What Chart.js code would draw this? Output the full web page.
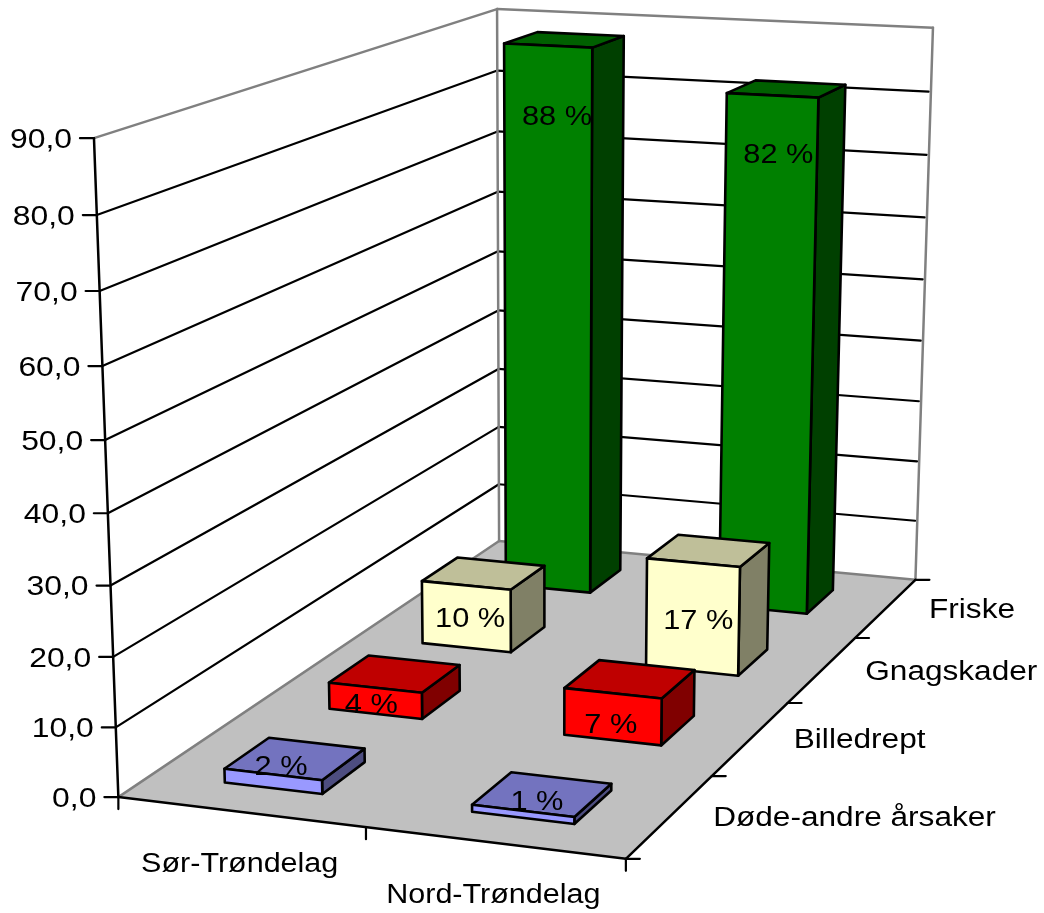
<!DOCTYPE html>
<html>
<head>
<meta charset="utf-8">
<style>
  html, body { margin: 0; padding: 0; background: #fff; }
  canvas { display: block; }
</style>
<script src="https://cdn.jsdelivr.net/npm/chart.js@4"></script>
</head>
<body>
<canvas id="chart" width="1044" height="913"></canvas>
<script>
// Tilstand per fylke, prosent av trær
var fylker = ['Sør-Trøndelag', 'Nord-Trøndelag'];
var tilstander = ['Døde-andre årsaker', 'Billedrept', 'Gnagskader', 'Friske'];
var dodeAndre = [2, 1];
var billedrept = [4, 7];
var gnagskader = [10, 17];
var friske = [88, 82];
var verdiEtiketter = ['0,0', '10,0', '20,0', '30,0', '40,0', '50,0', '60,0', '70,0', '80,0', '90,0'];

// Farger: front, topp, side
var farger = [
    ['#9999FF', '#7373BF', '#4D4D80'],
    ['#FF0000', '#BF0000', '#800000'],
    ['#FFFFCC', '#BFBF99', '#808066'],
    ['#008000', '#006000', '#004000']
];

// Etikettene er flyttet for hand i forhold til toppen av frontflaten
var etikettFlytt = [
    [[8, -9], [14, -11]],
    [[-4, 15], [-2, 30]],
    [[4, 32], [5, 56]],
    [[9, 69], [6, 58]]
];

var halvBredde = 0.2;
var halvDybde = 0.205;

// Kalibrering av perspektivet: (u, v, w) i enhetskuben -> piksler
var rammePunkter = [
    [0, 0, 0, 119, 797],
    [1, 0, 0, 627, 858],
    [1, 0, 1, 915, 580],
    [0, 0, 1, 499, 541],
    [0, 1, 0, 94, 138],
    [0, 1, 1, 497, 9],
    [1, 1, 1, 933, 28],
    [0.5, 0, 0, 365, 828],
    [1, 0, 0.25, 710, 777],
    [1, 0, 0.5, 788, 702],
    [1, 0, 0.75, 856, 638]
];

function finnMatrise(punkter) {
    var n = 11;
    var A = [];
    var i, j, k;
    for (i = 0; i < n; i++) {
        A.push(new Array(n + 1).fill(0));
    }
    function leggTil(rad, b) {
        for (var r = 0; r < n; r++) {
            for (var c = 0; c < n; c++) {
                A[r][c] += rad[r] * rad[c];
            }
            A[r][n] += rad[r] * b;
        }
    }
    punkter.forEach(function (p) {
        var x = p[3] / 1000, y = p[4] / 1000;
        leggTil([p[0], p[1], p[2], 1, 0, 0, 0, 0, -x * p[0], -x * p[1], -x * p[2]], x);
        leggTil([0, 0, 0, 0, p[0], p[1], p[2], 1, -y * p[0], -y * p[1], -y * p[2]], y);
    });
    for (i = 0; i < n; i++) {
        var best = i;
        for (k = i + 1; k < n; k++) {
            if (Math.abs(A[k][i]) > Math.abs(A[best][i])) best = k;
        }
        var tmp = A[i]; A[i] = A[best]; A[best] = tmp;
        for (k = 0; k < n; k++) {
            if (k === i) continue;
            var f = A[k][i] / A[i][i];
            for (j = i; j <= n; j++) {
                A[k][j] -= f * A[i][j];
            }
        }
    }
    return A.map(function (r, idx) { return r[n] / r[idx]; });
}

var M = finnMatrise(rammePunkter);

function projiser(u, v, w) {
    var d = M[8] * u + M[9] * v + M[10] * w + 1;
    return [
        1000 * (M[0] * u + M[1] * v + M[2] * w + M[3]) / d,
        1000 * (M[4] * u + M[5] * v + M[6] * w + M[7]) / d
    ];
}

// Leser posisjoner fra Chart.js-skalaene og legger dem i perspektivet
function punkt(chart, fylke, verdi, rad) {
    var s = chart.scales;
    var u = (s.x.getPixelForValue(fylke) - s.x.left) / s.x.width;
    var v = (s.y.bottom - s.y.getPixelForValue(verdi)) / s.y.height;
    var w = (s.depth.getPixelForValue(rad) - s.depth.left) / s.depth.width;
    return projiser(u, v, w);
}

function flate(ctx, hjorner, farge) {
    ctx.beginPath();
    hjorner.forEach(function (p, i) {
        if (i === 0) ctx.moveTo(p[0], p[1]);
        else ctx.lineTo(p[0], p[1]);
    });
    ctx.closePath();
    if (farge) {
        ctx.fillStyle = farge;
        ctx.fill();
    }
    ctx.stroke();
}

function linje(ctx, a, b, farge, bredde) {
    ctx.strokeStyle = farge;
    ctx.lineWidth = bredde;
    ctx.beginPath();
    ctx.moveTo(a[0], a[1]);
    ctx.lineTo(b[0], b[1]);
    ctx.stroke();
}

// Skriften er litt bredere enn normal Liberation Sans
function tekst(ctx, t, x, y, justering, strekk) {
    ctx.save();
    ctx.translate(x, y + 2.5);
    ctx.scale(strekk, 1);
    ctx.font = '27px "Liberation Sans"';
    ctx.fillStyle = '#000';
    ctx.textAlign = justering;
    ctx.textBaseline = 'middle';
    ctx.fillText(t, 0, 0);
    ctx.restore();
}

// Stolper som tredimensjonale bokser
class Stolpe3dController extends Chart.BarController {
    draw() {
        var chart = this.chart;
        var ctx = chart.ctx;
        var rad = this.index;
        var meta = this.getMeta();
        var self = this;
        ctx.save();
        ctx.strokeStyle = '#000';
        ctx.lineWidth = 2.6;
        ctx.lineJoin = 'round';
        meta.data.forEach(function (el, i) {
            var verdi = self.getParsed(i).y;
            var v0 = i - halvBredde, h0 = i + halvBredde;
            var f = rad - halvDybde, b = rad + halvDybde;
            var fv = punkt(chart, v0, 0, f), fh = punkt(chart, h0, 0, f);
            var bh = punkt(chart, h0, 0, b);
            var tfv = punkt(chart, v0, verdi, f), tfh = punkt(chart, h0, verdi, f);
            var tbv = punkt(chart, v0, verdi, b), tbh = punkt(chart, h0, verdi, b);
            flate(ctx, [fh, bh, tbh, tfh], farger[rad][2]);
            flate(ctx, [tfv, tfh, tbh, tbv], farger[rad][1]);
            flate(ctx, [fv, fh, tfh, tfv], farger[rad][0]);
        });
        ctx.restore();
    }
}
Stolpe3dController.id = 'stolpe3d';
Stolpe3dController.defaults = Chart.BarController.defaults;
Chart.register(Stolpe3dController);

// Vegger, gulv og rutenett under stolpene
var rammePlugin = {
    id: 'ramme',
    beforeDatasetsDraw: function (chart) {
        var ctx = chart.ctx;
        var y = chart.scales.y;
        var grad = function (v) { return (y.bottom - y.getPixelForValue(v)) / y.height; };
        var gra = '#808080';
        ctx.save();
        ctx.lineCap = 'round';
        ctx.lineJoin = 'round';

        var g00 = projiser(0, 0, 0), g10 = projiser(1, 0, 0);
        var g11 = projiser(1, 0, 1), g01 = projiser(0, 0, 1);
        ctx.strokeStyle = 'rgba(0,0,0,0)';
        flate(ctx, [g00, g10, g11, g01], '#C0C0C0');

        y.ticks.forEach(function (t) {
            var v = grad(t.value);
            if (t.value === 0 || t.value === y.max) return;
            linje(ctx, projiser(0, v, 0), projiser(0, v, 1), '#000', 2.2);
            linje(ctx, projiser(0, v, 1), projiser(0.995, v, 1), '#000', 2.2);
        });

        var t00 = projiser(0, 1, 0), t01 = projiser(0, 1, 1), t11 = projiser(1, 1, 1);
        linje(ctx, t00, t01, gra, 2.5);
        linje(ctx, t01, t11, gra, 2.5);
        linje(ctx, t01, g01, gra, 2.5);
        linje(ctx, t11, g11, gra, 2.5);
        linje(ctx, g00, g01, gra, 2.5);
        linje(ctx, g01, g11, gra, 2.5);

        // Akser med tikkmerker
        linje(ctx, g00, t00, '#000', 2.5);
        linje(ctx, g00, g10, '#000', 2.5);
        linje(ctx, g10, g11, '#000', 2.5);
        y.ticks.forEach(function (t) {
            var p = projiser(0, grad(t.value), 0);
            linje(ctx, [p[0] - 14, p[1]], p, '#000', 2.2);
        });
        [0, 1, 2].forEach(function (i) {
            var p = punkt(chart, i - 0.5, 0, -0.5);
            linje(ctx, p, [p[0], p[1] + 12], '#000', 2.2);
        });
        [0, 1, 2, 3, 4].forEach(function (i) {
            var p = punkt(chart, 1.5, 0, i - 0.5);
            linje(ctx, p, [p[0] + 14, p[1]], '#000', 2.2);
        });
        ctx.restore();
    },
    afterDatasetsDraw: function (chart) {
        var ctx = chart.ctx;
        var y = chart.scales.y;
        y.ticks.forEach(function (t) {
            var p = projiser(0, (y.bottom - y.getPixelForValue(t.value)) / y.height, 0);
            tekst(ctx, t.label, p[0] - 22, p[1], 'right', 1.18);
        });
        fylker.forEach(function (navn, i) {
            var p = punkt(chart, i, 0, -0.5);
            tekst(ctx, navn, p[0] - 1, p[1] + 50, 'center', 1.13);
        });
        tilstander.forEach(function (navn, i) {
            var p = punkt(chart, 1.5, 0, i);
            tekst(ctx, navn, p[0] + 43, p[1], 'left', 1.17);
        });
        chart.data.datasets.forEach(function (ds, rad) {
            ds.data.forEach(function (verdi, i) {
                var p = punkt(chart, i, verdi, rad - halvDybde);
                var d = etikettFlytt[rad][i];
                tekst(ctx, verdi + ' %', p[0] + d[0], p[1] + d[1], 'center', 1.14);
            });
        });
    }
};

new Chart(document.getElementById('chart'), {
    type: 'stolpe3d',
    data: {
        labels: fylker,
        datasets: [
            { label: tilstander[0], data: dodeAndre },
            { label: tilstander[1], data: billedrept },
            { label: tilstander[2], data: gnagskader },
            { label: tilstander[3], data: friske }
        ]
    },
    options: {
        responsive: false,
        animation: false,
        layout: { padding: 0 },
        plugins: { legend: { display: false }, tooltip: { enabled: false } },
        scales: {
            x: { type: 'category', offset: true, display: false },
            y: {
                type: 'linear',
                min: 0,
                max: 90,
                display: false,
                ticks: {
                    stepSize: 10,
                    callback: function (value, i) { return verdiEtiketter[i]; }
                }
            },
            depth: { type: 'category', position: 'bottom', labels: tilstander, offset: true, display: false }
        }
    },
    plugins: [rammePlugin]
});
</script>
</body>
</html>
